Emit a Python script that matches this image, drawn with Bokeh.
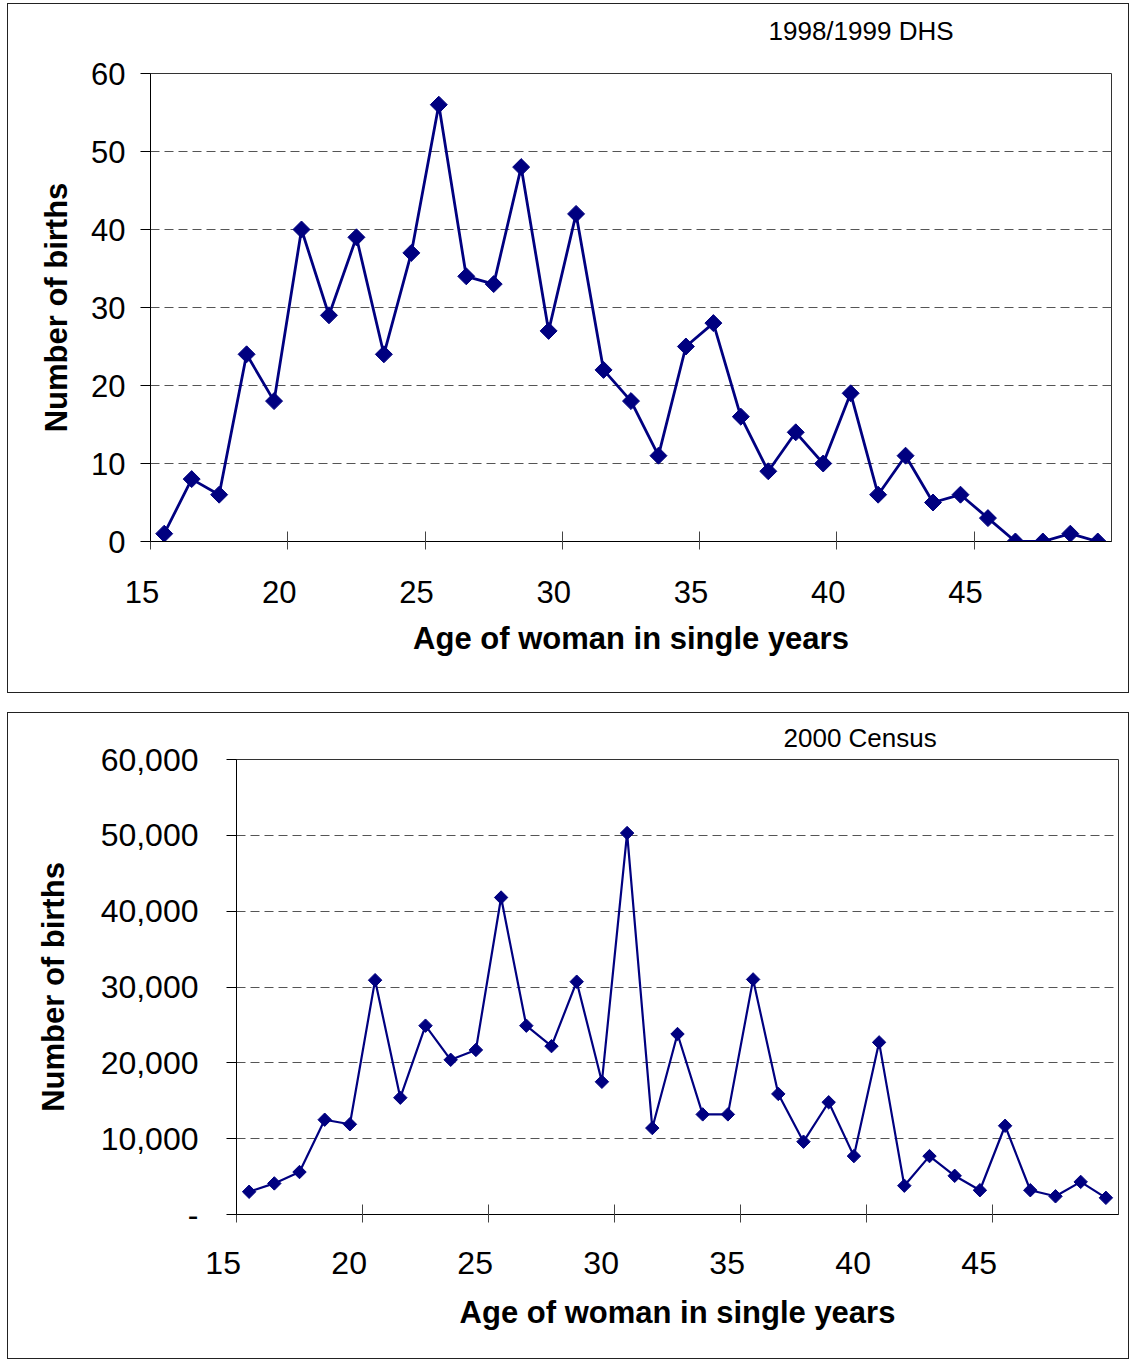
from bokeh.plotting import figure
from bokeh.models import FixedTicker, Range1d, Spacer
from bokeh.layouts import column, row
from bokeh.embed import file_html
from bokeh.resources import INLINE

ages = list(range(15, 50))
dhs_births = [1, 8, 6, 24, 18, 40, 29, 39, 24, 37, 56, 34, 33, 48, 27, 42, 22, 18,
              11, 25, 28, 16, 9, 14, 10, 19, 6, 11, 5, 6, 3, 0, 0, 1, 0]
census_births = [3000, 4100, 5600, 12500, 11900, 30900, 15400, 24900, 20400, 21700,
                 41800, 24900, 22200, 30700, 17500, 50300, 11400, 23800, 13200, 13200,
                 31000, 15900, 9600, 14800, 7700, 22700, 3800, 7700, 5100, 3200,
                 11700, 3200, 2400, 4300, 2200]
x_ticks = [15, 20, 25, 30, 35, 40, 45]
dhs_yticks = [0, 10, 20, 30, 40, 50, 60]
census_yticks = [0, 10000, 20000, 30000, 40000, 50000, 60000]
census_ylabels = {0: "-", 10000: "10,000", 20000: "20,000", 30000: "30,000",
                  40000: "40,000", 50000: "50,000", 60000: "60,000"}

FONT = "Liberation Sans"
NAVY = "#000080"
xs = [a + 0.5 for a in ages]


def make(yvals, ymax, yticks, height, mb_left, mb_right, mb_top, mb_bottom, tick_size,
         label_standoff_y, title_standoff_y, label_standoff_x, title_standoff_x,
         lw, msize, subtitle, sub_offset, sub_standoff, sub_lh, pad):
    p = figure(width=1122, height=height, output_backend="svg", toolbar_location=None,
               x_range=Range1d(15, 50), y_range=Range1d(0, ymax),
               min_border_left=mb_left, min_border_right=mb_right,
               min_border_top=mb_top, min_border_bottom=mb_bottom,
               styles={"border": "1px solid #222"})
    p.outline_line_color = "#333"
    p.outline_line_width = 1
    p.xgrid.visible = False
    p.ygrid.ticker = FixedTicker(ticks=yticks[1:-1])
    p.ygrid.grid_line_color = "#555"
    p.ygrid.grid_line_dash = "9 5"
    p.ygrid.grid_line_width = 1

    p.title.text = subtitle
    p.title.align = "left"
    p.title.offset = sub_offset
    p.title.standoff = sub_standoff
    p.title.text_font = FONT
    p.title.text_font_style = "normal"
    p.title.text_font_size = "26px"
    p.title.text_line_height = sub_lh
    p.title.text_color = "black"

    xa = p.xaxis[0]
    xa.ticker = FixedTicker(ticks=x_ticks)
    xa.major_label_overrides = {t: str(t) + "\u00a0" * pad for t in x_ticks}
    xa.minor_tick_line_color = None
    xa.major_tick_in = 10
    xa.major_tick_out = 8
    xa.major_tick_line_color = "#444"
    xa.axis_line_color = "black"
    xa.major_label_text_font = FONT
    xa.major_label_text_font_size = f"{tick_size}px"
    xa.major_label_text_color = "black"
    xa.major_label_standoff = label_standoff_x
    xa.axis_label = "Age of woman in single years"
    xa.axis_label_text_font = FONT
    xa.axis_label_text_font_style = "bold"
    xa.axis_label_text_font_size = "31px"
    xa.axis_label_text_color = "black"
    xa.axis_label_standoff = title_standoff_x

    ya = p.yaxis[0]
    ya.ticker = FixedTicker(ticks=yticks)
    ya.minor_tick_line_color = None
    ya.major_tick_in = 0
    ya.major_tick_out = 10
    ya.major_tick_line_color = "black"
    ya.axis_line_color = "black"
    ya.major_label_text_font = FONT
    ya.major_label_text_font_size = f"{tick_size}px"
    ya.major_label_text_color = "black"
    ya.major_label_standoff = label_standoff_y
    ya.axis_label = "Number of births"
    ya.axis_label_text_font = FONT
    ya.axis_label_text_font_style = "bold"
    ya.axis_label_text_font_size = "31px"
    ya.axis_label_text_color = "black"
    ya.axis_label_standoff = title_standoff_y

    p.line(xs, yvals, line_color=NAVY, line_width=lw)
    p.scatter(xs, yvals, marker="square", angle=0.785398, size=msize,
              fill_color=NAVY, line_color=NAVY)
    return p


p1 = make(dhs_births, 60, dhs_yticks, 690, 142, 19, 69, 153, 31,
          15, 14, 25, 8, 2.8, 12, "1998/1999 DHS\n\u00a0", 618, -4, 1.0, 2)

p2 = make(census_births, 60000, census_yticks, 647, 228, 12, 46, 146, 32,
          28, 27, 22, 11, 2.2, 9.5, "2000 Census", 547, 13, 1.2, 3)
p2.yaxis[0].major_label_overrides = census_ylabels

layout = column(Spacer(height=3),
                row(Spacer(width=7), p1),
                Spacer(height=19),
                row(Spacer(width=7), p2))

open("out.html", "w").write(file_html(layout, INLINE))
